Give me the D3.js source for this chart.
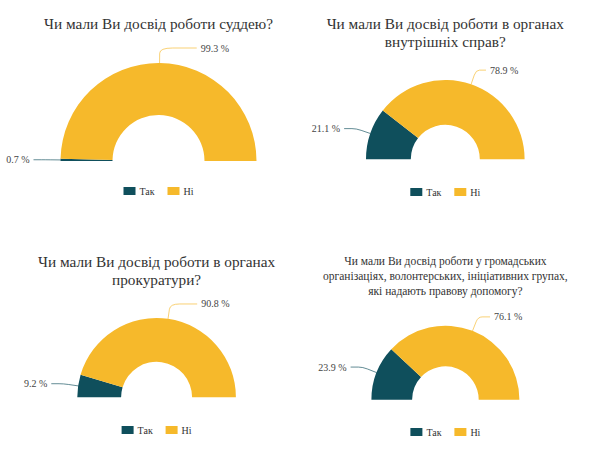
<!DOCTYPE html>
<html>
<head>
<meta charset="utf-8">
<script src="https://cdn.jsdelivr.net/npm/d3@7"></script>
<style>
  body { margin: 0; background: #fff; }
  svg { display: block; }
</style>
</head>
<body>
<svg id="chart" width="592" height="458"></svg>
<script>
// answers per question, in percent
const categories = ['Так', 'Ні']
const titles = [
  ['Чи мали Ви досвід роботи суддею?'],
  ['Чи мали Ви досвід роботи в органах', 'внутрішніх справ?'],
  ['Чи мали Ви досвід роботи в органах', 'прокуратури?'],
  ['Чи мали Ви досвід роботи у громадських', 'організаціях, волонтерських, ініціативних групах,', 'які надають правову допомогу?']
]
const valuesJudge = [0.7, 99.3]
const valuesPolice = [21.1, 78.9]
const valuesProsecutor = [9.2, 90.8]
const valuesNgo = [23.9, 76.1]
const seriesValues = [valuesJudge, valuesPolice, valuesProsecutor, valuesNgo]

const colors = ['#0f4f5c', '#f6b92b']
const serif = 'Liberation Serif'

// where each little donut sits
const layout = [
  { cx: 158.5, cy: 161, r: 98, ir: 46, titleY: 29, titleSize: 15.3, lh: 17.5, legendY: 187, len2: [12, 37] },
  { cx: 445.3, cy: 159.3, r: 79.3, ir: 34.5, titleY: 29, titleSize: 15.3, lh: 17.5, legendY: 188, len2: [12, 10] },
  { cx: 156.6, cy: 397.3, r: 79.3, ir: 35.5, titleY: 267, titleSize: 15.3, lh: 18, legendY: 426, len2: [12, 27] },
  { cx: 445.4, cy: 399.7, r: 74, ir: 33.3, titleY: 265, titleSize: 11.5, lh: 14.8, legendY: 428, len2: [12, 12] }
]

const svg = d3.select('#chart')
const color = d3.scaleOrdinal().domain(categories).range(colors)
const pie = d3.pie().sort(null).startAngle(-Math.PI / 2).endAngle(Math.PI / 2)

seriesValues.forEach((vals, k) => {
  const L = layout[k]
  const g = svg.append('g')

  // title
  const t = g.append('text')
    .attr('text-anchor', 'middle')
    .attr('font-family', serif)
    .attr('font-size', L.titleSize)
    .attr('fill', '#333')
  titles[k].forEach((line, i) => {
    t.append('tspan').attr('x', L.cx).attr('y', L.titleY + i * L.lh).text(line)
  })

  const arc = d3.arc().innerRadius(L.ir).outerRadius(L.r)
  const arcs = pie(vals)
  const gp = g.append('g').attr('transform', `translate(${L.cx},${L.cy})`)

  gp.selectAll('path.slice')
    .data(arcs)
    .join('path')
    .attr('class', 'slice')
    .attr('d', arc)
    .attr('fill', (d, i) => color(categories[i]))

  // label lines + labels
  arcs.forEach((d, i) => {
    const a = (d.startAngle + d.endAngle) / 2
    const sx = Math.sin(a)
    const sy = -Math.cos(a)
    const side = sx >= 0 ? 1 : -1
    const p1 = [L.r * sx, L.r * sy]
    const p2 = [(L.r + 15) * sx, (L.r + 15) * sy]
    const p3 = [p2[0] + side * L.len2[side > 0 ? 1 : 0], p2[1]]
    const path = d3.path()
    path.moveTo(p1[0], p1[1])
    const k1 = 0.35
    path.lineTo(p2[0] - (p2[0] - p1[0]) * k1, p2[1] - (p2[1] - p1[1]) * k1)
    path.quadraticCurveTo(p2[0], p2[1], p2[0] + (p3[0] - p2[0]) * k1, p2[1])
    path.lineTo(p3[0], p3[1])
    gp.append('path')
      .attr('d', path.toString())
      .attr('fill', 'none')
      .attr('stroke', color(categories[i]))
      .attr('stroke-opacity', 0.65)
      .attr('stroke-width', 1)
    gp.append('text')
      .attr('x', p3[0] + side * 4)
      .attr('y', p3[1] + 3.5)
      .attr('text-anchor', side > 0 ? 'start' : 'end')
      .attr('font-family', serif)
      .attr('font-size', 10)
      .attr('fill', '#444')
      .text(d3.format('.1f')(d.data) + ' %')
  })

  // legend
  const lg = g.append('g').attr('transform', `translate(${L.cx - 35},${L.legendY})`)
  const item = lg.selectAll('g')
    .data(categories)
    .join('g')
    .attr('transform', (d, i) => `translate(${i * 44},0)`)
  item.append('rect')
    .attr('width', 12)
    .attr('height', 8)
    .attr('fill', d => color(d))
  item.append('text')
    .attr('x', 16)
    .attr('y', 8)
    .attr('font-family', serif)
    .attr('font-size', 10)
    .attr('fill', '#333')
    .text(d => d)
})
</script>
</body>
</html>
